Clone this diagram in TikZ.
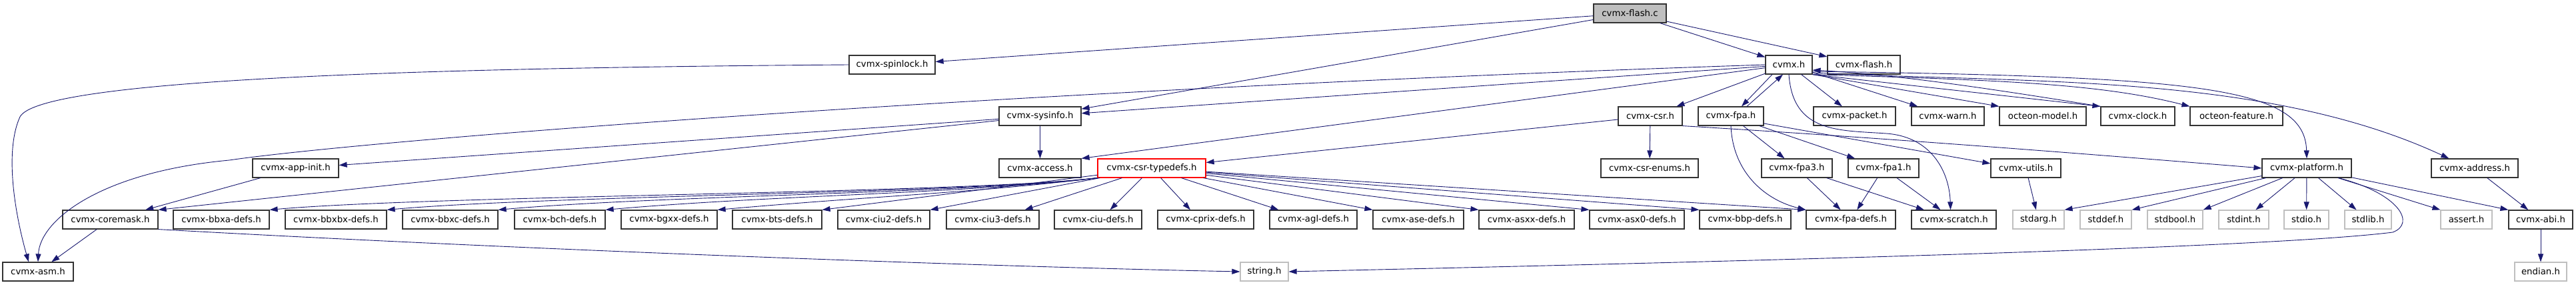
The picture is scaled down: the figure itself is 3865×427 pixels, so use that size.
\documentclass[tikz,border=0pt]{standalone}
\usepackage{fontspec}
\setmainfont{DejaVu Sans}
\usetikzlibrary{arrows.meta}
\definecolor{edgeblue}{RGB}{25,25,112}
\definecolor{boxgray}{RGB}{191,191,191}

\begin{document}
\begin{tikzpicture}[x=1pt,y=-1pt,
  font=\fontsize{13.3}{16}\selectfont,
  hdr/.style={draw=black!80,line width=1.2pt,fill=white,
    minimum height=28pt,inner xsep=2pt,inner ysep=0pt},
  syshdr/.style={hdr,draw=boxgray},
  inc/.style={edgeblue,line width=0.9pt,
    -{Triangle[length=12pt,width=8pt]}}]

\useasboundingbox (0,0) rectangle (3865,427);

% ---- Top: the source file ----
\node[hdr,fill=boxgray,minimum width=109pt] (flashc) at (2445.5,20) {cvmx-flash.c};

% ---- Row 1 ----
\node[hdr,minimum width=129pt] (spinlock) at (1338.5,97) {cvmx-spinlock.h};
\node[hdr,minimum width=70pt] (cvmxh) at (2684,97) {cvmx.h};
\node[hdr,minimum width=109pt] (flashh) at (2796.5,97) {cvmx-flash.h};

% ---- Row 2 ----
\foreach \nm/\cx/\bw/\lbl in {
  sysinfo/1560.5/123/cvmx-sysinfo.h, csr/2476/96/cvmx-csr.h,
  fpa/2597/98/cvmx-fpa.h, packet/2782.5/123/cvmx-packet.h,
  warn/2922.5/109/cvmx-warn.h, omodel/3065/130/octeon-model.h,
  clock/3207.5/111/cvmx-clock.h, ofeature/3355.5/139/octeon-feature.h
}{
  \node[hdr,minimum width=\bw pt] (\nm) at (\cx,174) {\lbl};
}

% ---- Row 3 ----
\foreach \nm/\cx/\bw/\lbl in {
  appinit/443.5/129/cvmx-app-init.h, access/1560.5/123/cvmx-access.h,
  enums/2475/146/cvmx-csr-enums.h, fpa3/2696/106/cvmx-fpa3.h,
  fpa1/2826/106/cvmx-fpa1.h, utils/3039.5/105/cvmx-utils.h,
  platform/3461/134/cvmx-platform.h, address/3713/130/cvmx-address.h
}{
  \node[hdr,minimum width=\bw pt] (\nm) at (\cx,252) {\lbl};
}
\node[hdr,draw=red,minimum width=162pt] (typedefs) at (1728,252) {cvmx-csr-typedefs.h};

% ---- Row 4 ----
\foreach \nm/\cx/\bw/\lbl in {
  coremask/165.5/143/cvmx-coremask.h, bbxa/332/144/cvmx-bbxa-defs.h,
  bbxbx/504/152/cvmx-bbxbx-defs.h, bbxc/675.5/143/cvmx-bbxc-defs.h,
  bch/840/136/cvmx-bch-defs.h, bgxx/1004/144/cvmx-bgxx-defs.h,
  bts/1166/134/cvmx-bts-defs.h, ciu2/1326/138/cvmx-ciu2-defs.h,
  ciu3/1489.5/139/cvmx-ciu3-defs.h, ciu/1647.5/131/cvmx-ciu-defs.h,
  cprix/1809/144/cvmx-cprix-defs.h, agl/1970.5/131/cvmx-agl-defs.h,
  ase/2128/136/cvmx-ase-defs.h, asxx/2290.5/143/cvmx-asxx-defs.h,
  asx0/2456/142/cvmx-asx0-defs.h, bbp/2618.5/137/cvmx-bbp-defs.h,
  fpadefs/2777/134/cvmx-fpa-defs.h, scratch/2931.5/127/cvmx-scratch.h,
  abi/3812/96/cvmx-abi.h
}{
  \node[hdr,minimum width=\bw pt] (\nm) at (\cx,329) {\lbl};
}
\foreach \nm/\cx/\bw/\lbl in {
  stdarg/3058.5/77/stdarg.h, stddef/3159.5/77/stddef.h,
  stdbool/3263.5/83/stdbool.h, stdint/3366.5/75/stdint.h,
  stdio/3460.5/67/stdio.h, stdlib/3553/70/stdlib.h,
  assert/3700.5/77/assert.h
}{
  \node[syshdr,minimum width=\bw pt] (\nm) at (\cx,329) {\lbl};
}

% ---- Row 5 ----
\node[hdr,minimum width=106pt] (asm) at (57,407) {cvmx-asm.h};
\node[syshdr,minimum width=72pt] (string) at (1897,407) {string.h};
\node[syshdr,minimum width=78pt] (endian) at (3812,407) {endian.h};

% ---- includes of cvmx-flash.c ----
\draw[inc] (flashc) -- (spinlock);
\draw[inc] (flashc) -- (sysinfo);
\draw[inc] (flashc) -- (cvmxh);
\draw[inc] (flashc) -- (flashh);

\draw[inc] (spinlock.west) .. controls (600,102) and (60,120) .. (30,175)
  .. controls (5,230) and (25,330) .. ([xshift=-14pt]asm.north);

% ---- includes of cvmx.h ----
\draw[inc] (cvmxh.west) .. controls (1500,135) and (550,210) .. (344,240)
  .. controls (150,258) and (60,330) .. (asm.north);
\draw[inc] (cvmxh) -- (sysinfo);
\draw[inc] (cvmxh) -- (access.north east);
\draw[inc] (cvmxh) -- (csr);
\draw[inc] ([xshift=-25pt]cvmxh.south) -- ([xshift=16pt]fpa.north);
\draw[inc] ([xshift=24pt]fpa.north) -- ([xshift=-9pt]cvmxh.south);
\draw[inc] (cvmxh) -- (packet);
\draw[inc] (cvmxh) -- (warn);
\draw[inc] (cvmxh.south east) -- (omodel.north west);
\draw[inc] (cvmxh.south east) -- (clock.north west);
\draw[inc] (clock.north west) .. controls (3000,135) and (2850,112) .. ([yshift=-8pt]cvmxh.east);
\draw[inc] (cvmxh.south east) .. controls (3000,120) and (3150,125) .. (ofeature.north west);
\draw[inc] ([yshift=-10pt]cvmxh.east) .. controls (3300,115) and (3458,130) .. (platform.north);
\draw[inc] ([yshift=-12pt]cvmxh.east) .. controls (3050,125) and (3400,110) .. ([xshift=27pt]address.north west);
\draw[inc] (cvmxh.south) .. controls (2690,200) and (2760,195) .. (2830,200)
  .. controls (2900,205) and (2925,260) .. ([xshift=-5pt]scratch.north);

% ---- second level ----
\draw[inc] (sysinfo) -- (appinit);
\draw[inc] (sysinfo) -- (coremask.north east);
\draw[inc] (sysinfo) -- (access);
\draw[inc] (appinit) -- (coremask);
\draw[inc] (coremask) -- (asm);
\draw[inc] (coremask.south east) .. controls (800,375) and (1500,400) .. (string.west);

\draw[inc] (csr) -- (typedefs);
\draw[inc] (csr) -- (enums);
\draw[inc] (csr.south east) .. controls (2800,205) and (3100,228) .. (platform.west);

\draw[inc] ([yshift=-11pt]fpa.east) -- ([yshift=7pt]utils.west);
\draw[inc] (fpa) -- (fpa3);
\draw[inc] (fpa) -- (fpa1);
\draw[inc] (fpa.south) .. controls (2600,260) and (2650,300) .. (fpadefs.north west);
\draw[inc] (fpa3) -- (fpadefs);
\draw[inc] (fpa3) -- (scratch);
\draw[inc] (fpa1) -- (fpadefs);
\draw[inc] (fpa1) -- (scratch);

% ---- cvmx-csr-typedefs.h fan out ----
\foreach \t in {bbxa,bbxbx,bbxc,bch,bgxx}{
  \draw[inc] (typedefs.south west) .. controls (1450,290)
    and ([xshift=250pt,yshift=22pt]\t.north east) .. (\t.north east);
}
\draw[inc] (typedefs) -- (bts.north east);
\draw[inc] (typedefs) -- (ciu2.north east);
\draw[inc] (typedefs) -- ([xshift=-22pt]ciu3.north east);
\draw[inc] (typedefs) -- ([xshift=18pt]ciu.north);
\draw[inc] (typedefs) -- ([xshift=-23pt]cprix.north);
\draw[inc] (typedefs) -- ([xshift=14pt]agl.north west);
\foreach \t in {ase,asxx,asx0,bbp,fpadefs}{
  \draw[inc] (typedefs) -- (\t.north west);
}

% ---- platform and friends ----
\draw[inc] (utils) -- (stdarg);
\draw[inc] (platform) -- (stdarg.north east);
\draw[inc] (platform) -- (stddef.north east);
\draw[inc] (platform) -- (stdbool.north east);
\draw[inc] (platform) -- (stdint);
\draw[inc] (platform) -- (stdio);
\draw[inc] (platform) -- (stdlib);
\draw[inc] (platform) -- (assert.north west);
\draw[inc] (platform) -- (abi.north west);
\draw[inc] ([xshift=-20pt]platform.south east) .. controls (3600,290) and (3625,335) .. (3590,348)
  .. controls (3400,372) and (2600,392) .. (string.east);
\draw[inc] (address) -- (abi);
\draw[inc] (abi) -- (endian);

\end{tikzpicture}
\end{document}
